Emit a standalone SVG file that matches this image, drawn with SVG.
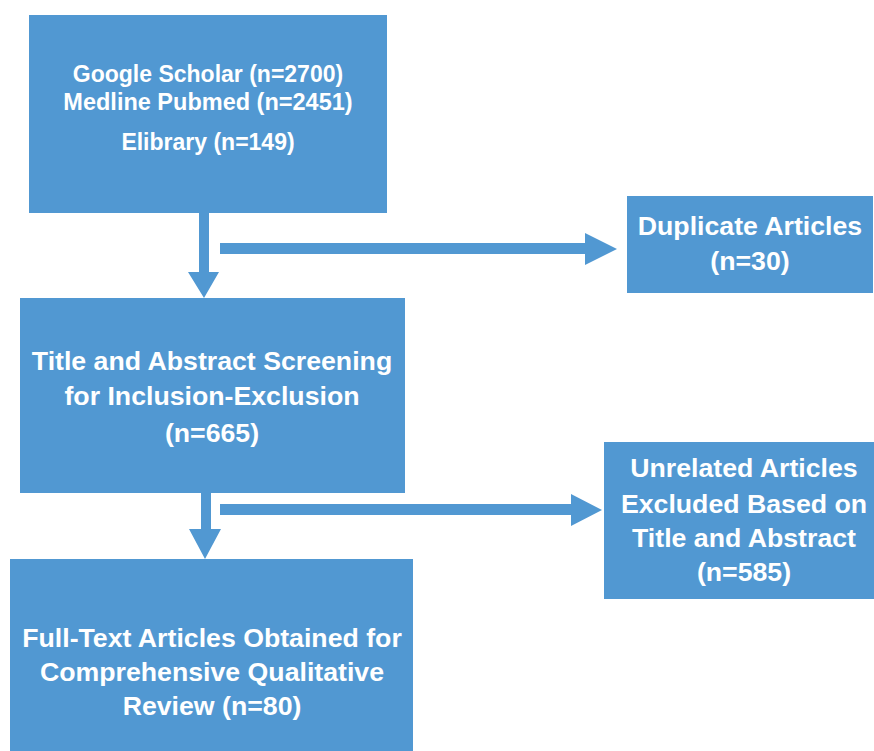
<svg xmlns="http://www.w3.org/2000/svg" width="874" height="751" viewBox="0 0 874 751">
<style>
.box{fill:#5198d2;}
.arr{fill:#5198d2;}
text{font-family:"Liberation Sans",Arial,sans-serif;font-weight:bold;fill:#ffffff;text-anchor:middle;}
.s{font-size:23px;}
.m{font-size:26.7px;}
</style>
<rect width="874" height="751" fill="#ffffff"/>
<g id="connectors">
<polygon class="arr" points="199,213 209,213 209,272 219,272 204,298 188,272 199,272"/>
<polygon class="arr" points="220,243 585,243 585,233 617,249 585,265 585,254 220,254"/>
<polygon class="arr" points="201,493 211,493 211,529 221,529 205,559 189,529 201,529"/>
<polygon class="arr" points="220,504 571,504 571,494 602,510 571,526 571,515 220,515"/>
</g>
<g id="sources">
<rect class="box" x="29" y="15" width="358" height="198"/>
<text class="s" x="208" y="82">Google Scholar (n=2700)</text>
<text class="s" x="208" y="110" style="font-size:23.5px">Medline Pubmed (n=2451)</text>
<text class="s" x="208" y="150">Elibrary (n=149)</text>
</g>
<g id="duplicates">
<rect class="box" x="627" y="196" width="246" height="97"/>
<text class="m" x="750" y="235">Duplicate Articles</text>
<text class="m" x="750" y="270">(n=30)</text>
</g>
<g id="screening">
<rect class="box" x="20" y="298" width="385" height="195"/>
<text class="m" x="212" y="370">Title and Abstract Screening</text>
<text class="m" x="212" y="405">for Inclusion-Exclusion</text>
<text class="m" x="212" y="442">(n=665)</text>
</g>
<g id="unrelated">
<rect class="box" x="604" y="442" width="270" height="157"/>
<text class="m" x="744" y="477">Unrelated Articles</text>
<text class="m" x="744" y="513">Excluded Based on</text>
<text class="m" x="744" y="547">Title and Abstract</text>
<text class="m" x="744" y="581">(n=585)</text>
</g>
<g id="fulltext">
<rect class="box" x="10" y="559" width="403" height="192"/>
<text class="m" x="212" y="647">Full-Text Articles Obtained for</text>
<text class="m" x="212" y="681">Comprehensive Qualitative</text>
<text class="m" x="212" y="715">Review (n=80)</text>
</g>
</svg>
